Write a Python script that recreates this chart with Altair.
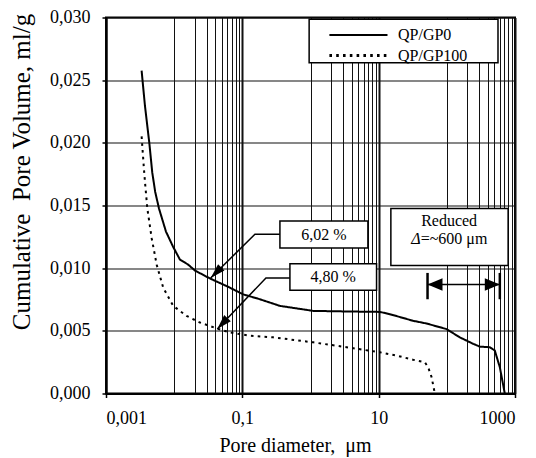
import altair as alt
import pandas as pd

# ---- data ----
series_names = ["QP/GP0", "QP/GP100"]

gp0_x = [0.00333, 0.00373, 0.00431, 0.00477, 0.00527, 0.00599, 0.00758, 0.0096, 0.01216,
         0.0161, 0.0202, 0.0335, 0.0589, 0.103, 0.181, 0.356, 1.1, 3.0, 10.4, 14.6, 32,
         50, 99, 155, 244, 305, 427, 505, 599, 708]
gp0_y = [0.02576, 0.02294, 0.02004, 0.01764, 0.01608, 0.01476, 0.01292, 0.01173, 0.01068,
         0.01028, 0.00981, 0.00918, 0.00857, 0.00791, 0.00752, 0.00699, 0.00659, 0.00655,
         0.00651, 0.00633, 0.0058, 0.00559, 0.00514, 0.00448, 0.00396, 0.00374, 0.00369,
         0.00343, 0.0021, 0.0]

gp100_x = [0.00333, 0.0036, 0.00373, 0.00404, 0.00468, 0.00554, 0.00692, 0.0097, 0.0152,
           0.0239, 0.042, 0.0658, 0.129, 0.284, 1.1, 3.38, 10.4, 18.3, 32, 47.5, 53.2,
           59.7, 66.7]
gp100_y = [0.02051, 0.01793, 0.01688, 0.01476, 0.01239, 0.01028, 0.00843, 0.00699, 0.00619,
           0.00566, 0.00519, 0.00487, 0.00461, 0.00448, 0.00408, 0.00369, 0.00329, 0.00303,
           0.00269, 0.0025, 0.0021, 0.00131, 0.0]

x_major = [0.001, 0.1, 10, 1000]
x_grid = [0.001, 0.01, 0.02, 0.03, 0.04, 0.05, 0.06, 0.07, 0.08, 0.09, 0.1,
          1, 2, 3, 4, 5, 6, 7, 8, 9, 10,
          100, 200, 300, 400, 500, 600, 700, 800, 900, 1000]
y_ticks = [0.0, 0.005, 0.010, 0.015, 0.020, 0.025, 0.030]

# legend frame (data coordinates)
legend_box_x = [0.955, 563]
legend_box_y = [0.02639, 0.02986]

# annotation boxes (data coordinates)
box_label = ["6,02 %", "4,80 %", ""]
box_x1 = [0.356, 0.499, 15.1]
box_x2 = [6.95, 9.31, 793]
box_y1 = [0.0116, 0.00823, 0.01021]
box_y2 = [0.01377, 0.01036, 0.01476]
box_tx = [1.57, 2.15, 108]
box_ty = [0.01268, 0.0093, 0.0125]

# leader lines: box edge -> elbow -> tip
lead_group = ["a", "a", "a", "b", "b", "b"]
lead_x = [0.356, 0.153, 0.0343, 0.499, 0.222, 0.0429]
lead_y = [0.0127, 0.0127, 0.00922, 0.00922, 0.00922, 0.00514]
tip_x = [0.0343, 0.0429]
tip_y = [0.00922, 0.00514]
tip_angle = [135, 133]

# "Reduced" double arrow
span_x = [52.1, 599]
span_y = 0.0087
span_bar_y1 = 0.00752
span_bar_y2 = 0.00962
span_angle = [180, 0]

FONT = "Liberation Serif"
NBSP = "\u00a0"

curves = pd.DataFrame({
    "x": gp0_x + gp100_x,
    "y": gp0_y + gp100_y,
    "series": [series_names[0]] * len(gp0_x) + [series_names[1]] * len(gp100_x),
})
legend_frame = pd.DataFrame({"x": [legend_box_x[0]], "x2": [legend_box_x[1]],
                             "y": [legend_box_y[0]], "y2": [legend_box_y[1]]})
boxes = pd.DataFrame({"x": box_x1, "x2": box_x2, "y": box_y1, "y2": box_y2,
                      "tx": box_tx, "ty": box_ty, "label": box_label})
leads = pd.DataFrame({"x": lead_x, "y": lead_y, "g": lead_group,
                      "o": list(range(len(lead_x)))})
tips = pd.DataFrame({"x": tip_x, "y": tip_y, "angle": tip_angle})
span_line = pd.DataFrame({"x": [span_x[0]], "x2": [span_x[1]], "y": [span_y]})
span_bars = pd.DataFrame({"x": span_x, "y": [span_bar_y1] * 2, "y2": [span_bar_y2] * 2})
span_heads = pd.DataFrame({"x": span_x, "y": [span_y] * 2, "angle": span_angle})
reduced_txt = pd.DataFrame({"x": [108], "y": [0.01375], "label": ["Reduced"]})
delta_sym = pd.DataFrame({"x": [41.3], "y": [0.01233], "label": ["Δ"]})
delta_rest = pd.DataFrame({"x": [41.3], "y": [0.01233], "label": ["=~600 μm"]})

major_test = "indexof([0.001, 0.1, 10, 1000], datum.value) >= 0"

xscale = alt.Scale(type="log", domain=[0.001, 1000], nice=False)
yscale = alt.Scale(domain=[0, 0.03], nice=False, zero=False)

x_axis = alt.Axis(
    values=x_grid,
    labelExpr=f"{major_test} ? replace(toString(datum.value), '.', ',') : ''",
    grid=True, gridColor="#111111",
    gridWidth={"condition": {"test": major_test, "value": 2}, "value": 1},
    tickColor={"condition": {"test": major_test, "value": "black"}, "value": "transparent"},
    tickSize=4, tickWidth=1.5, labelPadding=12,
    labelFont=FONT, labelFontSize=18, labelColor="black", labelOverlap=False,
    domainColor="black", domainWidth=2,
    title="Pore diameter," + NBSP + " μm", titleFont=FONT, titleFontSize=20,
    titleFontWeight="normal",
    titleColor="black", titleX=189, titleY=52, titleBaseline="middle", titleAlign="center",
    titleAnchor="start",
)
y_axis = alt.Axis(
    values=y_ticks,
    labelExpr="replace(format(datum.value, '.3f'), '.', ',')",
    grid=True, gridColor="#111111", gridWidth=1.2,
    tickSize=4, tickWidth=1.5, tickColor="black", labelPadding=12,
    labelFont=FONT, labelFontSize=18, labelColor="black",
    domainColor="black", domainWidth=2,
    title="Cumulative" + NBSP + " Pore Volume, ml/g", titleFont=FONT, titleFontSize=25,
    titleFontWeight="normal", titleColor="black",
    titleX=-85, titleY=154, titleBaseline="middle", titleAlign="center", titleAngle=-90,
)


def X(field="x"):
    return alt.X(f"{field}:Q", scale=xscale, axis=x_axis)


def Y(field="y"):
    return alt.Y(f"{field}:Q", scale=yscale, axis=y_axis)


frame = alt.Chart(legend_frame).mark_rect(fill="white", stroke="black", strokeWidth=1.5).encode(
    x=X(), x2="x2:Q", y=Y(), y2="y2:Q")

lines = alt.Chart(curves).mark_line(color="black", strokeWidth=2).encode(
    x=X(), y=Y(),
    strokeDash=alt.StrokeDash(
        "series:N",
        scale=alt.Scale(domain=series_names, range=[[1, 0], [2.6, 4.2]]),
        legend=alt.Legend(
            title=None, orient="none", legendX=203, legendY=6.5,
            symbolType="M-7.3,0L1,0", symbolSize=196, symbolStrokeWidth=2.4,
            symbolStrokeColor="black", symbolFillColor="transparent",
            symbolOffset=60, labelOffset=9,
            labelFont=FONT, labelFontSize=16, labelColor="black",
            padding=3, rowPadding=4, strokeColor="transparent", fillColor="transparent",
        ),
    ),
    strokeWidth=alt.StrokeWidth("series:N", scale=alt.Scale(domain=series_names, range=[1.8, 3]),
                                legend=None),
)

leader = alt.Chart(leads).mark_line(color="black", strokeWidth=1.5).encode(
    x=X(), y=Y(), detail="g:N", order="o:Q")

heads = alt.Chart(tips).mark_point(
    shape="M0,0L-1,-0.3L-1,0.3Z", filled=True, color="black", opacity=1, size=900,
).encode(x=X(), y=Y(), angle=alt.Angle("angle:Q", scale=None))

rects = alt.Chart(boxes).mark_rect(fill="white", stroke="black", strokeWidth=1.5).encode(
    x=X(), x2="x2:Q", y=Y(), y2="y2:Q")

box_text = alt.Chart(boxes).mark_text(font=FONT, fontSize=16, color="black",
                                      align="center", baseline="middle").encode(
    x=alt.X("tx:Q", scale=xscale, axis=x_axis), y=alt.Y("ty:Q", scale=yscale, axis=y_axis),
    text="label:N")

red_t = alt.Chart(reduced_txt).mark_text(font=FONT, fontSize=16, color="black",
                                         align="center", baseline="middle").encode(
    x=X(), y=Y(), text="label:N")
delta_t = alt.Chart(delta_sym).mark_text(font=FONT, fontSize=16, color="black", fontStyle="italic",
                                         align="right", baseline="middle").encode(
    x=X(), y=Y(), text="label:N")
rest_t = alt.Chart(delta_rest).mark_text(font=FONT, fontSize=16, color="black",
                                         align="left", baseline="middle").encode(
    x=X(), y=Y(), text="label:N")

span_rule = alt.Chart(span_line).mark_rule(color="black", strokeWidth=1.5).encode(
    x=X(), x2="x2:Q", y=Y())
span_bar = alt.Chart(span_bars).mark_rule(color="black", strokeWidth=2.5).encode(
    x=X(), y=Y(), y2="y2:Q")
span_head = alt.Chart(span_heads).mark_point(
    shape="M0,0L-1,-0.42L-1,0.42Z", filled=True, color="black", opacity=1, size=900,
).encode(x=X(), y=Y(), angle=alt.Angle("angle:Q", scale=None))

chart = alt.layer(
    frame, lines, leader, heads, rects, box_text, red_t, delta_t, rest_t,
    span_rule, span_bar, span_head,
).properties(
    width=409, height=376,
    autosize=alt.AutoSizeParams(type="none"),
    padding={"left": 98, "top": 9.5, "right": 13, "bottom": 63},
    background="white",
).configure_view(stroke="black", strokeWidth=2)

chart.save("out.html", embed_options={"renderer": "svg", "actions": False})
